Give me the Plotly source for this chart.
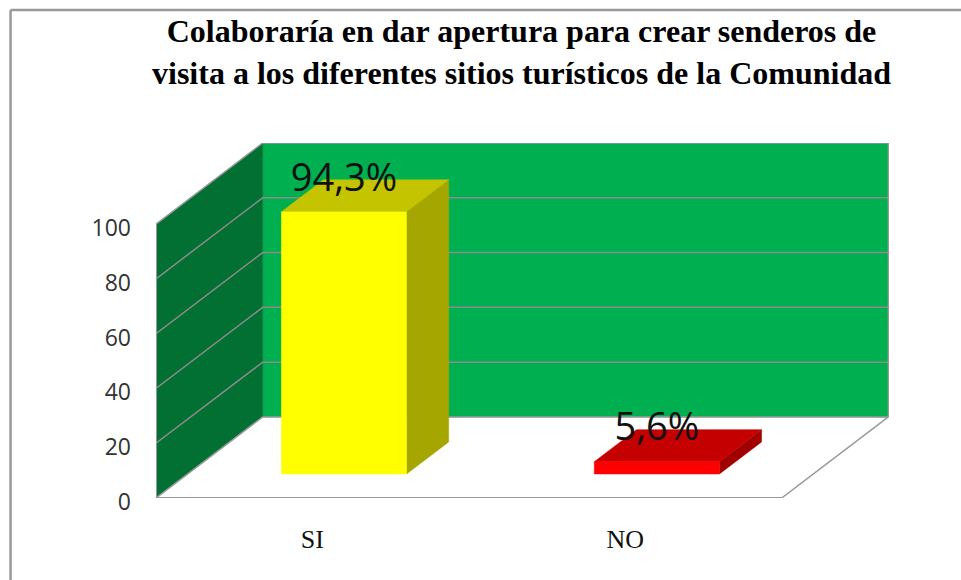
"""
Pseudo-3D column chart, built on one plain cartesian axis pair.
"""

import plotly.graph_objects as go

TITLE = ("Colaboraría en dar apertura para crear senderos de<br>"
         "visita a los diferentes sitios turísticos de la Comunidad")
CATEGORIES = ["SI", "NO"]
BAR_HEIGHTS = [95.7, 4.5]  # as drawn against the axis
BAR_LABELS = ["94,3%", "5,6%"]  # as printed on the chart
Y_TICKS = [0, 20, 40, 60, 80, 100]

# colours
WALL_BACK = "#00B050"
WALL_SIDE = "#026F33"
EDGE = "#999999"
GRID = "#8C8C8C"
FRONT = ["#FFFF00", "#FF0000"]
TOP = ["#C4C400", "#C40000"]
SIDE = ["#A6A600", "#A00000"]

# pixel box of the front plane (axis area is aligned to it)
W, H = 961, 580
L, R, T, B = 156, 71.7, 143.3, 82.3

# oblique projection: one full depth step, in axis units
DX = 0.341
DY = 29.6
X_MAX = 2.343
Y_MAX = 129.6
BAR_WIDTH = 0.4
BAR_D0, BAR_D1 = 0.296, 0.691
LABEL_LIFT = 11.2


def pt(x, v, d=0.0):
    """Project (category position, value, depth) onto the axes."""
    return x + d * DX, v + d * DY


def face(fig, pts, color):
    xs, ys = zip(*pts)
    fig.add_trace(go.Scatter(
        x=list(xs) + [xs[0]], y=list(ys) + [ys[0]], mode="lines",
        fill="toself", fillcolor=color, line=dict(color=color, width=0.5),
        hoverinfo="skip", showlegend=False))


def line(fig, pts, color, width=1.5):
    xs, ys = zip(*pts)
    fig.add_trace(go.Scatter(
        x=xs, y=ys, mode="lines", line=dict(color=color, width=width),
        hoverinfo="skip", showlegend=False))


fig = go.Figure()
n = len(CATEGORIES)
top = Y_TICKS[-1]

# walls
face(fig, [pt(0, 0, 1), pt(n, 0, 1), pt(n, top, 1), pt(0, top, 1)], WALL_BACK)
face(fig, [pt(0, 0), pt(0, 0, 1), pt(0, top, 1), pt(0, top)], WALL_SIDE)

# gridlines run across both walls
for v in Y_TICKS[1:-1]:
    line(fig, [pt(0, v), pt(0, v, 1), pt(n, v, 1)], GRID)

# outline of walls and floor
line(fig, [pt(0, top), pt(0, top, 1), pt(n, top, 1), pt(n, 0, 1)], EDGE)
line(fig, [pt(n, 0), pt(n, 0, 1), pt(0, 0, 1), pt(0, 0)], EDGE)
line(fig, [pt(0, top), pt(0, 0), pt(n, 0)], EDGE, width=2)

# bars
for i, h in enumerate(BAR_HEIGHTS):
    x0 = i + 0.5 - BAR_WIDTH / 2
    x1 = i + 0.5 + BAR_WIDTH / 2
    face(fig, [pt(x1, 0, BAR_D0), pt(x1, 0, BAR_D1), pt(x1, h, BAR_D1), pt(x1, h, BAR_D0)], SIDE[i])
    face(fig, [pt(x0, h, BAR_D0), pt(x1, h, BAR_D0), pt(x1, h, BAR_D1), pt(x0, h, BAR_D1)], TOP[i])
    face(fig, [pt(x0, 0, BAR_D0), pt(x1, 0, BAR_D0), pt(x1, h, BAR_D0), pt(x0, h, BAR_D0)], FRONT[i])

# data labels
fig.add_trace(go.Scatter(
    x=[pt(i + 0.5, 0, BAR_D0)[0] for i in range(n)],
    y=[pt(0, h, BAR_D0)[1] + LABEL_LIFT for h in BAR_HEIGHTS],
    text=BAR_LABELS, mode="text", textposition="middle center",
    textfont=dict(family="Open Sans", size=38, color="#111111"),
    hoverinfo="skip", showlegend=False))

plot_w, plot_h = W - L - R, H - T - B
fr_x = (10.5 - L) / plot_w
fr_y = 1 + (T - 10.5) / plot_h
frame = dict(type="line", xref="paper", yref="paper", line=dict(color="#999999", width=2.5))

fig.update_layout(
    width=W, height=H,
    margin=dict(l=L, r=R, t=T, b=B),
    paper_bgcolor="white", plot_bgcolor="rgba(0,0,0,0)",
    title=dict(
        text=f"<b>{TITLE}</b>", x=521.5 / W, xanchor="center",
        y=1 - 42 / H, yanchor="top",
        font=dict(family="Liberation Serif", size=32, color="#000000")),
    xaxis=dict(
        range=[0, X_MAX], showgrid=False, zeroline=False, showline=False,
        tickvals=[i + 0.5 for i in range(n)], ticktext=CATEGORIES, ticks="",
        ticklabelstandoff=23,
        tickfont=dict(family="Liberation Serif", size=26, color="#111111")),
    yaxis=dict(
        range=[0, Y_MAX], showgrid=False, zeroline=False, showline=False,
        tickvals=Y_TICKS, ticks="", ticklabelstandoff=24, ticklabelshift=4,
        tickfont=dict(family="Open Sans", size=23, color="#333333")),
    shapes=[
        dict(frame, x0=fr_x, x1=fr_x, y0=fr_y, y1=-1),
        dict(frame, x0=fr_x, x1=2, y0=fr_y, y1=fr_y),
    ],
)

fig.write_html("out.html", config=dict(displayModeBar=False), post_script=(
    "document.body.style.margin='0';document.body.style.overflow='hidden';"))
